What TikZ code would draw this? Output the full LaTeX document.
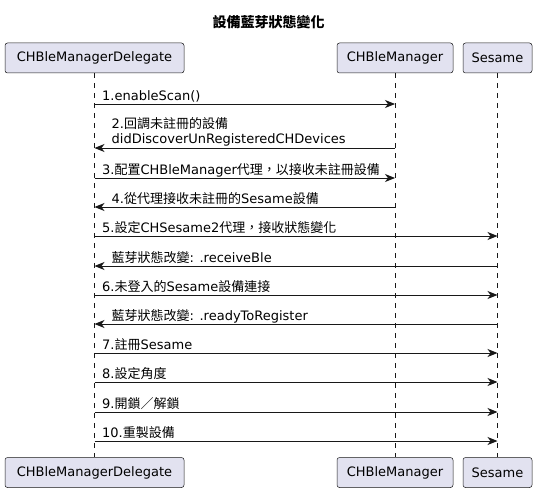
\documentclass[tikz,border=0pt]{standalone}
\usepackage{fontspec}
\setmainfont{DejaVu Sans}
\newfontfamily\cjk{Noto Sans CJK TC}
\newcommand{\zh}[1]{{\cjk #1}}
\usetikzlibrary{arrows.meta}
\definecolor{boxfill}{HTML}{E2E2F0}
\definecolor{ink}{HTML}{181818}

\begin{document}
\begin{tikzpicture}[x=1pt, y=-1pt,
              party/.style = {draw=ink, fill=boxfill, rounded corners=2.5pt, line width=0.5pt,
                              minimum height=30pt, inner sep=0pt, font=\fontsize{13}{15}\selectfont},
              life/.style = {draw=ink, line width=0.5pt, dash pattern=on 5pt off 5pt},
              msg/.style = {draw=ink, line width=1pt, -{Stealth[length=10pt,width=8pt,inset=3pt]}},
              lbl/.style = {inner sep=0pt, anchor=base west, font=\fontsize{13}{15}\selectfont}]
  \useasboundingbox (0,0) rectangle (537,492);
  \node[font=\fontsize{14}{16}\selectfont\bfseries] (title) at (268.5,22) {\zh{設備藍芽狀態變化}};

  % participants, top and bottom
  \node[party, minimum width=179pt] (dlg) at (94.5,58) {CHBleManagerDelegate};
  \node[party, minimum width=116pt] (mgr) at (395,58) {CHBleManager};
  \node[party, minimum width=69pt] (ses) at (497.5,58) {Sesame};
  \node[party, minimum width=179pt] (dlgB) at (94.5,472.5) {CHBleManagerDelegate};
  \node[party, minimum width=116pt] (mgrB) at (395,472.5) {CHBleManager};
  \node[party, minimum width=69pt] (sesB) at (497.5,472.5) {Sesame};
  \draw[life] (dlg) -- (dlgB);
  \draw[life] (mgr) -- (mgrB);
  \draw[life] (ses) -- (sesB);

  % messages
  \draw[msg] (dlg |- 0,104) -- (mgr |- 0,104);
  \node[lbl] (m1) at (102,100) {1.enableScan()};
  \draw[msg] (mgr |- 0,148) -- (dlg |- 0,148);
  \node[lbl, anchor=south west, align=left] (m2) at (111.5,146.5) {2.\zh{回調未註冊的設備}\\didDiscoverUnRegisteredCHDevices};
  \draw[msg] (dlg |- 0,178) -- (mgr |- 0,178);
  \node[lbl] (m3) at (102,174) {3.\zh{配置}CHBleManager\zh{代理，以接收未註冊設備}};
  \draw[msg] (mgr |- 0,207) -- (dlg |- 0,207);
  \node[lbl] (m4) at (111.5,203) {4.\zh{從代理接收未註冊的}Sesame\zh{設備}};
  \draw[msg] (dlg |- 0,236) -- (ses |- 0,236);
  \node[lbl] (m5) at (102,232) {5.\zh{設定}CHSesame2\zh{代理，接收狀態變化}};
  \draw[msg] (ses |- 0,266) -- (dlg |- 0,266);
  \node[lbl] (r1) at (111.5,262) {\zh{藍芽狀態改變}: .receiveBle};
  \draw[msg] (dlg |- 0,295) -- (ses |- 0,295);
  \node[lbl] (m6) at (102,291) {6.\zh{未登入的}Sesame\zh{設備連接}};
  \draw[msg] (ses |- 0,324) -- (dlg |- 0,324);
  \node[lbl] (r2) at (111.5,320) {\zh{藍芽狀態改變}: .readyToRegister};
  \draw[msg] (dlg |- 0,353) -- (ses |- 0,353);
  \node[lbl] (m7) at (102,349) {7.\zh{註冊}Sesame};
  \draw[msg] (dlg |- 0,382) -- (ses |- 0,382);
  \node[lbl] (m8) at (102,378) {8.\zh{設定角度}};
  \draw[msg] (dlg |- 0,412) -- (ses |- 0,412);
  \node[lbl] (m9) at (102,408) {9.\zh{開鎖／解鎖}};
  \draw[msg] (dlg |- 0,441) -- (ses |- 0,441);
  \node[lbl] (m10) at (102,437) {10.\zh{重製設備}};
\end{tikzpicture}
\end{document}
